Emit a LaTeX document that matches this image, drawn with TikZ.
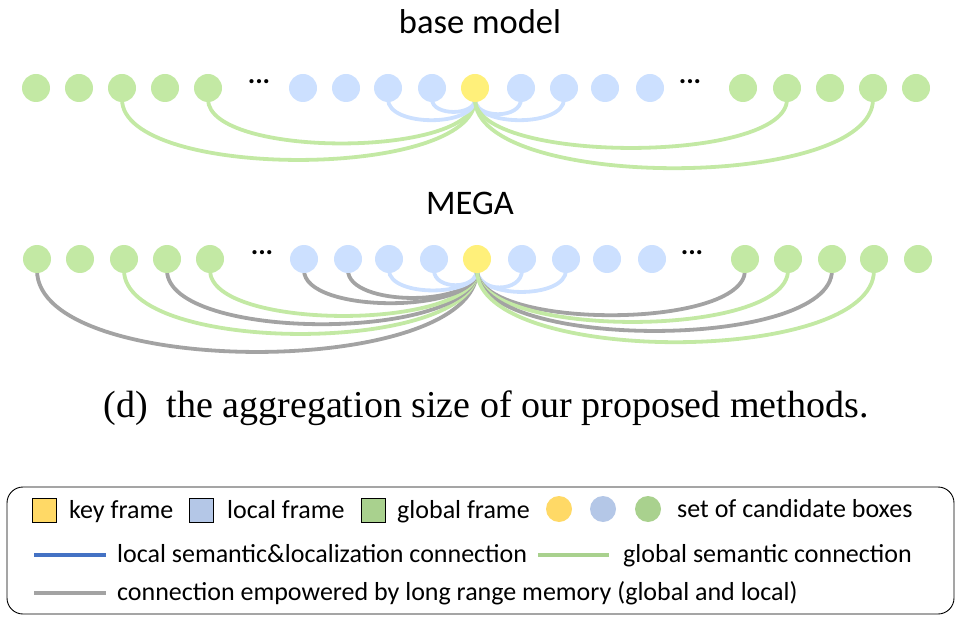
\documentclass[tikz,border=0pt]{standalone}
\usepackage{fontspec}
\setmainfont{Carlito}
\newfontfamily\capfont{Liberation Serif}
\usetikzlibrary{backgrounds}
\definecolor{cgreen}{HTML}{C3E9A4}
\definecolor{cblue}{HTML}{CCE0FF}
\definecolor{cyel}{HTML}{FFF07A}
\definecolor{lgreen}{HTML}{C3E9A4}
\definecolor{lblue}{HTML}{CCE0FF}
\definecolor{lgray}{HTML}{A3A3A3}
\definecolor{kyel}{HTML}{FFD966}
\definecolor{kblue}{HTML}{B4C7E7}
\definecolor{kgreen}{HTML}{A9D18E}
\definecolor{kline}{HTML}{4472C4}
\tikzset{
  dot/.style={circle, minimum size=28pt, inner sep=0pt},
  gdot/.style={dot, fill=cgreen},
  bdot/.style={dot, fill=cblue},
  ydot/.style={dot, fill=cyel},
  gline/.style={draw=lgreen, line width=3.8pt},
  bline/.style={draw=lblue, line width=3.8pt},
  aline/.style={draw=lgray, line width=3.8pt},
  ell/.style={font=\fontsize{28}{30}\selectfont\bfseries},
  ttl/.style={font=\fontsize{34.5}{38}\selectfont},
  legtxt/.style={anchor=base west, font=\fontsize{26}{28}\selectfont, inner sep=0pt},
  legsq/.style={draw=black, line width=0.8pt, minimum size=24pt, inner sep=0pt},
  legdot/.style={circle, minimum size=26pt, inner sep=0pt},
  legline/.style={line width=4pt}
}
\newcommand\conn[4]{\draw[#1] ([yshift=3pt]#2.south) .. controls +(0,#4) and +(0,#4) .. ([yshift=3pt]#3.south);}
\begin{document}
\begin{tikzpicture}[x=1pt,y=-1pt]
\useasboundingbox (0,0) rectangle (957,617);
% ---------- base model ----------
\node[ttl] (t0) at (480,22) {base model};
\foreach \n/\x in {1/36,2/79,3/122,4/165,5/208}{\node[gdot] (a\n) at (\x,88) {};}
\node[ell] (ae1) at (259,82) {...};
\foreach \n/\x in {6/303,7/346,8/388,9/432}{\node[bdot] (a\n) at (\x,88) {};}
\node[ydot] (ak) at (475,88) {};
\foreach \n/\x in {10/521,11/564,12/605,13/650}{\node[bdot] (a\n) at (\x,88) {};}
\node[ell] (ae2) at (690,82) {...};
\foreach \n/\x in {14/743,15/787,16/830,17/873,18/916}{\node[gdot] (a\n) at (\x,88) {};}
\begin{scope}[on background layer]
\conn{gline}{a3}{ak}{81}
\conn{gline}{a5}{ak}{59}
\conn{bline}{a8}{ak}{28}
\conn{bline}{a9}{ak}{17}
\conn{bline}{ak}{a10}{20}
\conn{bline}{ak}{a11}{28}
\conn{gline}{ak}{a15}{65}
\conn{gline}{ak}{a17}{92}
\end{scope}
% ---------- MEGA ----------
\node[ttl] (m0) at (470,203) {MEGA};
\foreach \n/\x in {1/37,2/80,3/124,4/167,5/210}{\node[gdot] (b\n) at (\x,259) {};}
\node[ell] (be1) at (262,253) {...};
\foreach \n/\x in {6/304,7/348,8/389,9/434}{\node[bdot] (b\n) at (\x,259) {};}
\node[ydot] (bk) at (477,259) {};
\foreach \n/\x in {10/522,11/566,12/607,13/652}{\node[bdot] (b\n) at (\x,259) {};}
\node[ell] (be2) at (692,253) {...};
\foreach \n/\x in {14/745,15/788,16/832,17/874,18/918}{\node[gdot] (b\n) at (\x,259) {};}
\begin{scope}[on background layer]
\conn{aline}{b1}{bk}{109}
\conn{gline}{b3}{bk}{85}
\conn{aline}{b4}{bk}{72}
\conn{gline}{b5}{bk}{61}
\conn{aline}{b6}{bk}{44}
\conn{aline}{b7}{bk}{37}
\conn{bline}{b8}{bk}{27}
\conn{bline}{b9}{bk}{20}
\conn{bline}{bk}{b10}{23}
\conn{bline}{bk}{b11}{29}
\conn{aline}{bk}{b14}{60}
\conn{gline}{bk}{b15}{69}
\conn{aline}{bk}{b16}{81}
\conn{gline}{bk}{b17}{96}
\end{scope}
% ---------- caption ----------
\node[font=\capfont\fontsize{38}{42}\selectfont] (cap) at (486,408) {(d)\ \ the aggregation size of our proposed methods.};
% ---------- legend ----------
\draw[rounded corners=16pt, line width=0.9pt] (7,487) rectangle (954,614);
\node[legsq, fill=kyel] (s1) at (44,510) {};
\node[legtxt] (l1) at (69,518) {key frame};
\node[legsq, fill=kblue] (s2) at (201,510) {};
\node[legtxt] (l2) at (227,518) {local frame};
\node[legsq, fill=kgreen] (s3) at (373,510) {};
\node[legtxt] (l3) at (397,518) {global frame};
\node[legdot, fill=kyel] (c1) at (559,509) {};
\node[legdot, fill=kblue] (c2) at (603,509) {};
\node[legdot, fill=kgreen] (c3) at (648,509) {};
\node[legtxt] (l4) at (677,517) {set of candidate boxes};
\coordinate (p1) at (34,555); \coordinate (p2) at (106,555);
\draw[legline, kline] (p1) -- (p2);
\node[legtxt] (l5) at (117,562) {local semantic\&localization connection};
\coordinate (p3) at (538,555); \coordinate (p4) at (609,555);
\draw[legline, kgreen] (p3) -- (p4);
\node[legtxt] (l6) at (623,562) {global semantic connection};
\coordinate (p5) at (34,593); \coordinate (p6) at (106,593);
\draw[legline, lgray] (p5) -- (p6);
\node[legtxt] (l7) at (117,600) {connection empowered by long range memory (global and local)};
\end{tikzpicture}
\end{document}
